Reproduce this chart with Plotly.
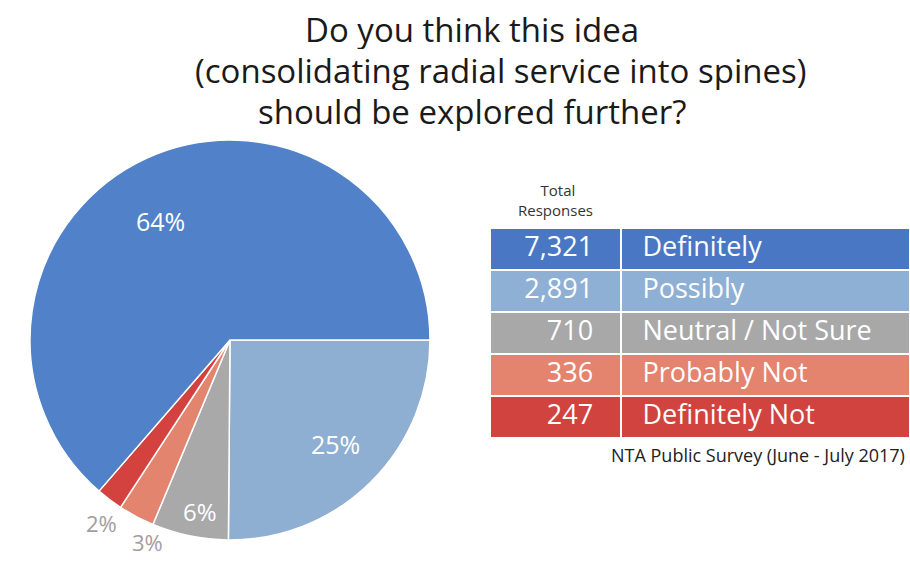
import math
import plotly.graph_objects as go

# Survey responses
categories = ["Definitely", "Possibly", "Neutral / Not Sure", "Probably Not", "Definitely Not"]
responses = [7321, 2891, 710, 336, 247]
slice_colors = ["#5181c8", "#8eafd1", "#a9a9a9", "#e3846f", "#d3423f"]
table_colors = ["#4a77c4", "#8fb0d5", "#a8a8a8", "#e4836e", "#d0433f"]

title_lines = [
    "Do you think this idea",
    "(consolidating radial service into spines)",
    "should be explored further?",
]
source_text = "NTA Public Survey (June - July 2017)"
header_text = "\u2003\u2002Total<br>Responses"

W, H = 910, 561
FONT = "'Open Sans', 'Noto Sans', sans-serif"

# pie geometry (pixels)
CX, CY, R = 230, 340, 200

# pie drawn clockwise from 3 o'clock: Possibly first, Definitely last
pie_order = [1, 2, 3, 4, 0]
pie_labels = [categories[i] for i in pie_order]
pie_values = [responses[i] for i in pie_order]
pie_colors = [slice_colors[i] for i in pie_order]
# label placement per slice: radial fraction and angular nudge (degrees)
label_radius = [0.74, 0.87, 1.09, 1.12, 0.69]
label_nudge = [-0.8, -1.7, -5.7, -2.0, -5.8]
label_colors = ["white", "white", "#a49d9d", "#a49d9d", "white"]
label_sizes = [25, 24, 22, 22, 25]

fig = go.Figure()

fig.add_trace(go.Pie(
    labels=pie_labels,
    values=pie_values,
    sort=False,
    direction="clockwise",
    rotation=90,
    marker=dict(colors=pie_colors, line=dict(color="white", width=1.5)),
    textinfo="none",
    domain=dict(x=[(CX - R) / W, (CX + R) / W], y=[1 - (CY + R) / H, 1 - (CY - R) / H]),
    showlegend=False,
    hoverinfo="label+value+percent",
))

# percentage labels placed at each slice's mid-angle
total = sum(pie_values)
start = 90.0  # clockwise from 12 o'clock
for i, v in enumerate(pie_values):
    span = 360.0 * v / total
    mid = math.radians(start + span / 2 + label_nudge[i])
    r = R * label_radius[i]
    px = CX + r * math.sin(mid)
    py = CY - r * math.cos(mid)
    fig.add_annotation(
        text="{:.0f}%".format(100.0 * v / total),
        x=px / W, y=1 - py / H, xref="paper", yref="paper",
        showarrow=False, xanchor="center", yanchor="middle",
        font=dict(size=label_sizes[i], color=label_colors[i], family=FONT),
    )
    start += span

# response table
num_cells = ["{:,}\u2007\u2009".format(v) for v in responses]
lab_cells = ["\u2002" + c for c in categories]
fig.add_trace(go.Table(
    domain=dict(x=[490 / W, 1.0], y=[1 - 445 / H, 1 - 172 / H]),
    columnwidth=[131, 289],
    header=dict(
        values=[header_text, ""],
        fill=dict(color="white"),
        line=dict(color="white", width=0),
        font=dict(color="#333333", size=15, family=FONT),
        align="center",
        height=40,
    ),
    cells=dict(
        values=[num_cells, lab_cells],
        fill=dict(color=[table_colors, table_colors]),
        line=dict(color="white", width=2),
        font=dict(color="white", size=27, family=FONT),
        align=["right", "left"],
        height=42,
    ),
))

# three-line heading
for line, xc, yc in zip(title_lines, [472, 501, 472], [29, 70, 111]):
    fig.add_annotation(
        text=line, x=xc / W, y=1 - yc / H, xref="paper", yref="paper",
        showarrow=False, xanchor="center", yanchor="middle",
        height=40, valign="middle",
        font=dict(size=33, color="#1a1a1a", family=FONT),
    )
fig.add_annotation(
    text=source_text, x=907 / W, y=1 - 455 / H, xref="paper", yref="paper",
    showarrow=False, xanchor="right", yanchor="middle",
    font=dict(size=18, color="#222222", family=FONT),
)

fig.update_layout(
    width=W, height=H,
    margin=dict(l=0, r=0, t=0, b=0),
    paper_bgcolor="white",
    plot_bgcolor="white",
)

fig.write_html("out.html")
